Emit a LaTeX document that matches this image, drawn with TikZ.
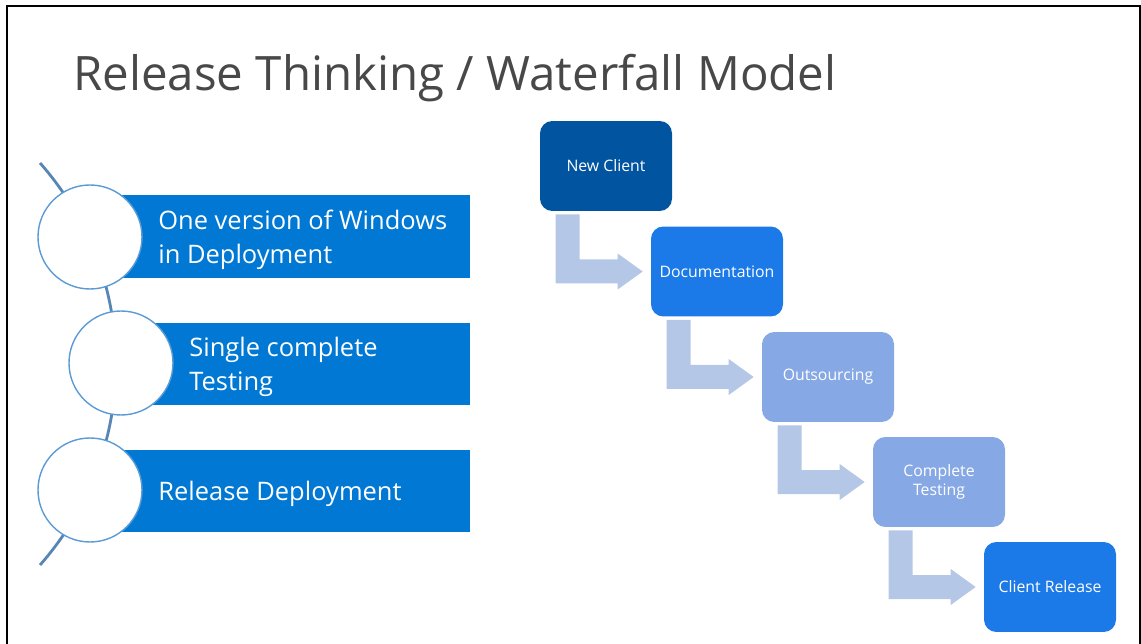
\documentclass[tikz,border=0pt]{standalone}
\usepackage{fontspec}
\setmainfont{Open Sans}
\usetikzlibrary{calc}
\definecolor{barblue}{RGB}{0,120,212}
\definecolor{ringblue}{RGB}{91,155,213}
\definecolor{spineblue}{RGB}{88,134,180}
\definecolor{darkstep}{RGB}{0,84,160}
\definecolor{midstep}{RGB}{27,122,232}
\definecolor{lightstep}{RGB}{134,168,228}
\definecolor{arrowfill}{RGB}{180,199,231}
\definecolor{titlegray}{RGB}{72,72,72}
\tikzset{
  stepbox/.style={rounded corners=7pt,minimum width=2.64cm,minimum height=1.8cm,
    text=white,align=center,inner sep=2pt,font=\fontsize{9}{11}\selectfont},
  bartext/.style={anchor=west,text=white,align=left,inner sep=0pt,
    font=\fontsize{14.5}{19.3}\selectfont},
  ring/.style={draw=ringblue,line width=0.8pt,fill=white},
  bentarrow/.style={fill=arrowfill}
}
\begin{document}
\begin{tikzpicture}[x=0.02cm,y=-0.02cm]
  \useasboundingbox (0,0) rectangle (1141,644);
  % frame
  \draw[line width=1.2pt] (7,644)--(7,6)--(1140,6)--(1140,644);
  % title
  \node[anchor=base west,inner sep=0pt,text=titlegray,font=\fontsize{27}{32}\selectfont] (title) at (73,91) {Release Thinking / Waterfall Model};
  % left list
  \draw[spineblue,line width=1.6pt] (-188,364)++(41.4:304) arc (41.4:-41.4:304);
  \fill[barblue] (120,195) rectangle (470,278);
  \fill[barblue] (150,323) rectangle (470,405);
  \fill[barblue] (120,450) rectangle (470,532);
  \draw[ring] (90,237) circle [radius=52];
  \draw[ring] (121,363) circle [radius=52];
  \draw[ring] (90,490) circle [radius=52];
  \node[bartext] (t1) at (158,240) {One version of Windows\\in Deployment};
  \node[bartext] (t2) at (189,367) {Single complete\\Testing};
  \node[bartext] (t3) at (158,494) {Release Deployment};
  % waterfall steps
  \node[stepbox,fill=darkstep] (s1) at (606,166) {New Client};
  \node[stepbox,fill=midstep] (s2) at (717,271.5) {Documentation};
  \node[stepbox,fill=lightstep] (s3) at (828,377) {Outsourcing};
  \node[stepbox,fill=lightstep] (s4) at (939,482) {Complete\\Testing};
  \node[stepbox,fill=midstep] (s5) at (1050,587) {Client Release};
  \foreach \a/\b in {s1/s2,s2/s3,s3/s4,s4/s5}{
    \fill[bentarrow] ($(\a.south west)+(16,3)$) -- ++(24,0)
      |- ($(\b.west)+(-33,-12)$) -- ++(0,-6) -- ($(\b.west)+(-8,0)$)
      -- ++(-25,18) -- ++(0,-6) -- ($(\a.south west |- \b.west)+(16,12)$) -- cycle;
  }
\end{tikzpicture}
\end{document}
